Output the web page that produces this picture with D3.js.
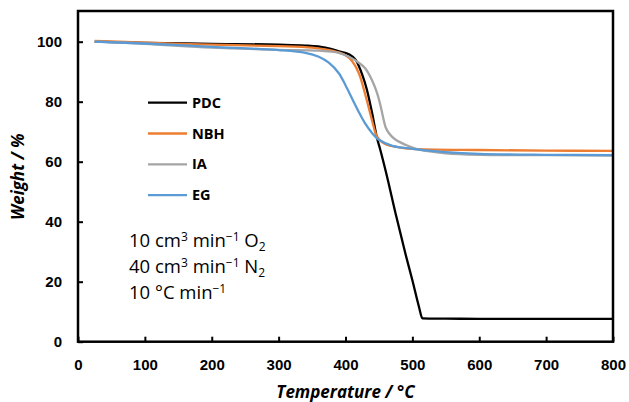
<!DOCTYPE html>
<html>
<head>
<meta charset="utf-8">
<script src="https://cdn.jsdelivr.net/npm/d3@7"></script>
<style>
  body { margin: 0; background: #fff; }
  svg { display: block; font-family: "Open Sans", "Noto Sans", sans-serif; }
  .tick text { font-size: 15px; font-weight: bold; fill: #000; }
  .tick line { stroke: #000; stroke-width: 2; }
</style>
</head>
<body>
<svg id="chart"></svg>
<script>
const seriesNames = ["PDC", "NBH", "IA", "EG"];
const seriesColors = ["#000000", "#ED7D31", "#A5A5A5", "#5B9BD5"];

const pdcT = [25, 100, 200, 300, 340, 370, 390, 405, 415, 425, 432, 440, 447, 452, 460, 476, 490, 500, 510, 515, 550, 600, 700, 800];
const pdcW = [100, 99.6, 99.3, 99, 98.7, 98, 96.8, 95.8, 94, 89, 84, 76, 68, 64, 57, 41.7, 29, 20.5, 11.5, 7.8, 7.7, 7.6, 7.6, 7.6];

const nbhT = [25, 100, 200, 300, 350, 380, 400, 410, 420, 430, 440, 445, 450, 460, 480, 500, 600, 700, 800];
const nbhW = [100.3, 99.7, 99, 98.5, 98, 97, 95.5, 93.5, 89.5, 82, 73.5, 69.5, 67.5, 65.8, 64.8, 64.3, 63.9, 63.7, 63.6];

const iaT = [25, 100, 200, 300, 360, 390, 405, 420, 430, 440, 447, 452, 456, 460, 465, 475, 490, 510, 550, 600, 700, 800];
const iaW = [100, 99.3, 98, 97.3, 97, 96.3, 95, 93, 91, 87, 83, 79, 75, 71.5, 69.5, 67.3, 65.6, 64, 62.8, 62.3, 62.2, 62];

const egT = [25, 100, 200, 300, 340, 360, 375, 390, 400, 410, 420, 430, 440, 450, 470, 500, 550, 600, 700, 800];
const egW = [100, 99.4, 98.3, 97.2, 96.3, 95, 93, 89.5, 85.5, 81, 76.5, 72.5, 69.5, 67.3, 65.3, 64.3, 63.2, 62.6, 62.3, 62.2];

const xTicks = [0, 100, 200, 300, 400, 500, 600, 700, 800];
const yTicks = [0, 20, 40, 60, 80, 100];

const seriesT = [pdcT, nbhT, iaT, egT];
const seriesW = [pdcW, nbhW, iaW, egW];

const width = 629, height = 402;
const plotLeft = 78, plotRight = 613, plotTop = 11.7, plotBottom = 341.7;

const svg = d3.select("#chart")
  .attr("width", width)
  .attr("height", height);

const x = d3.scaleLinear().domain([0, 800]).range([plotLeft, plotRight]);
const y = d3.scaleLinear().domain([0, 110]).range([plotBottom, plotTop]);

// axes, ticks pointing inward
svg.append("g")
  .attr("transform", `translate(0,${plotBottom})`)
  .call(d3.axisBottom(x).tickValues(xTicks).tickSizeInner(-5).tickSizeOuter(0).tickPadding(18))
  .call(g => g.select(".domain").remove());

svg.append("g")
  .attr("transform", `translate(${plotLeft},0)`)
  .call(d3.axisLeft(y).tickValues(yTicks).tickSizeInner(-5).tickSizeOuter(0).tickPadding(16))
  .call(g => g.select(".domain").remove());

// smooth curves; PDC has a sharp corner so it gets a non-overshooting curve
const smooth = d3.line()
  .x(d => x(d[0]))
  .y(d => y(d[1]))
  .curve(d3.curveCatmullRom.alpha(0.5));
const mono = d3.line()
  .x(d => x(d[0]))
  .y(d => y(d[1]))
  .curve(d3.curveMonotoneX);

seriesNames.forEach((name, i) => {
  const pts = seriesT[i].map((t, j) => [t, seriesW[i][j]]);
  svg.append("path")
    .datum(pts)
    .attr("fill", "none")
    .attr("stroke", seriesColors[i])
    .attr("stroke-width", 2.3)
    .attr("stroke-linejoin", "round")
    .attr("d", name === "PDC" ? mono : smooth);
});

// frame
svg.append("rect")
  .attr("x", plotLeft).attr("y", 11)
  .attr("width", plotRight - plotLeft).attr("height", plotBottom - 11)
  .attr("fill", "none")
  .attr("stroke", "#000")
  .attr("stroke-width", 2.5);

// legend
const legend = svg.append("g").attr("transform", "translate(148,102.7)");
seriesNames.forEach((name, i) => {
  const g = legend.append("g").attr("transform", `translate(0,${i * 30.8})`);
  g.append("line")
    .attr("x1", 0).attr("x2", 39)
    .attr("stroke", seriesColors[i])
    .attr("stroke-width", 2.3);
  g.append("text")
    .attr("x", 44).attr("dy", "0.35em")
    .attr("font-size", 14.5).attr("font-weight", "bold")
    .text(name);
});

// conditions text
const notes = [
  [["10 cm", ""], ["3", "sup"], [" min", ""], ["\u22121", "sup"], [" O", ""], ["2", "sub"]],
  [["40 cm", ""], ["3", "sup"], [" min", ""], ["\u22121", "sup"], [" N", ""], ["2", "sub"]],
  [["10 \u00B0C min", ""], ["\u22121", "sup"]]
];
notes.forEach((parts, i) => {
  const t = svg.append("text")
    .attr("x", 129).attr("y", 246.7 + i * 26)
    .attr("font-size", 18.5);
  parts.forEach(([s, kind]) => {
    const sp = t.append("tspan").text(s);
    if (kind === "sup") sp.attr("font-size", 12).attr("baseline-shift", "6.5");
    if (kind === "sub") sp.attr("font-size", 12).attr("baseline-shift", "-3.5");
  });
});

// axis titles
svg.append("text")
  .attr("transform", `translate(24,${(plotTop + plotBottom) / 2}) rotate(-90)`)
  .attr("text-anchor", "middle")
  .attr("font-size", 17).attr("font-weight", "bold").attr("font-style", "italic")
  .text("Weight / %");

svg.append("text")
  .attr("x", (plotLeft + plotRight) / 2).attr("y", 398)
  .attr("text-anchor", "middle")
  .attr("font-size", 17).attr("font-weight", "bold").attr("font-style", "italic")
  .text("Temperature / \u00B0C");
</script>
</body>
</html>
